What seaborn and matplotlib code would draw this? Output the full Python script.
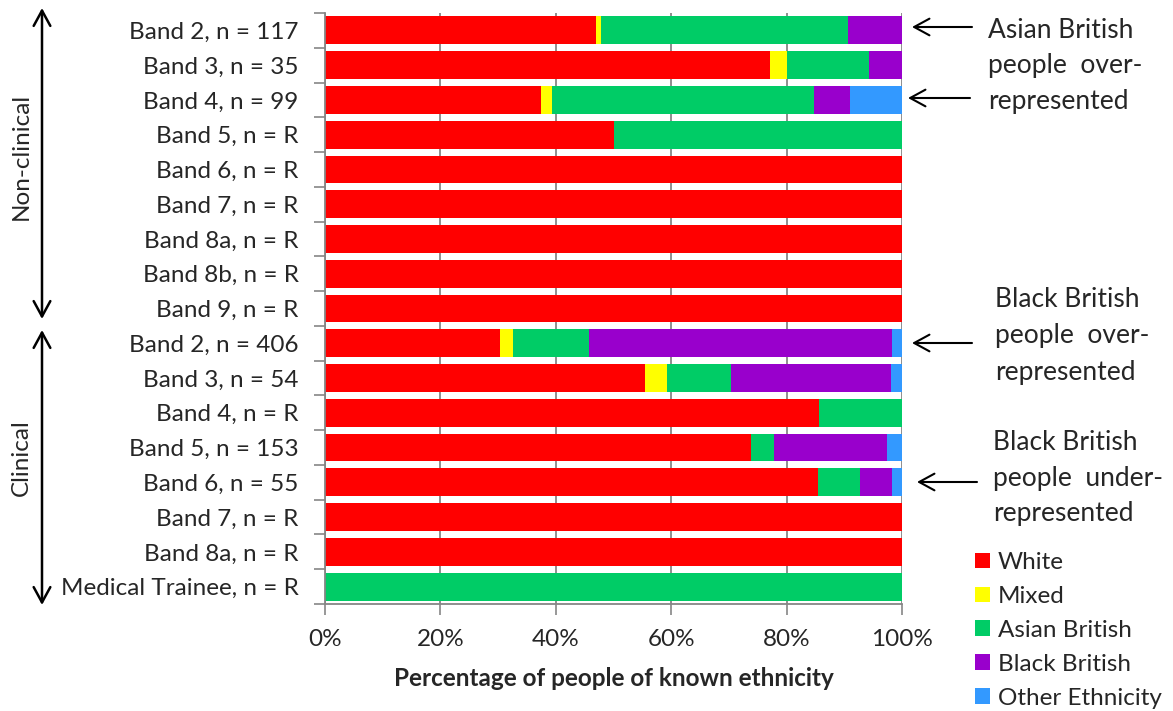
import numpy as np
import pandas as pd
import matplotlib
matplotlib.use("Agg")
import matplotlib.pyplot as plt
from matplotlib.patches import Patch, FancyArrowPatch
from matplotlib.ticker import FixedLocator, PercentFormatter
import seaborn as sns

# ---- data -------------------------------------------------------------
bands = [
    "Band 2, n = 117", "Band 3, n = 35", "Band 4, n = 99", "Band 5, n = R",
    "Band 6, n = R", "Band 7, n = R", "Band 8a, n = R", "Band 8b, n = R",
    "Band 9, n = R",
    "Band 2, n = 406", "Band 3, n = 54", "Band 4, n = R", "Band 5, n = 153",
    "Band 6, n = 55", "Band 7, n = R", "Band 8a, n = R",
    "Medical Trainee, n = R",
]
ethnicities = ["White", "Mixed", "Asian British", "Black British", "Other Ethnicity"]

white = [46.9, 77.1, 37.4, 50.0, 100, 100, 100, 100, 100,
         30.3, 55.6, 85.7, 73.9, 85.5, 100, 100, 0]
mixed = [0.9, 2.9, 2.0, 0, 0, 0, 0, 0, 0,
         2.2, 3.7, 0, 0, 0, 0, 0, 0]
asian = [42.8, 14.3, 45.5, 50.0, 0, 0, 0, 0, 0,
         13.3, 11.1, 14.3, 3.9, 7.3, 0, 0, 100]
black = [9.4, 5.7, 6.1, 0, 0, 0, 0, 0, 0,
         52.5, 27.8, 0, 19.6, 5.5, 0, 0, 0]
other = [0, 0, 9.1, 0, 0, 0, 0, 0, 0,
         1.7, 1.9, 0, 2.6, 1.8, 0, 0, 0]

palette = ["#FF0000", "#FFFF00", "#00CC66", "#9900CC", "#3399FF"]

# ---- long-form table with running totals ------------------------------
row_ids = [f"r{i:02d}" for i in range(len(bands))]
shares = np.array([white, mixed, asian, black, other], dtype=float).T
shares = shares / shares.sum(axis=1, keepdims=True) * 100.0
cum = np.cumsum(shares, axis=1)
df = pd.DataFrame({
    "row": np.repeat(row_ids, len(ethnicities)),
    "ethnicity": np.tile(ethnicities, len(bands)),
    "cum": cum.ravel(),
})

# ---- figure -----------------------------------------------------------
W, H = 1173, 711
sns.set_theme(style="white")
plt.rcParams["font.family"] = ["Lato", "DejaVu Sans"]
FS = 17.5
NOTE_FS = 19
GREY = "#868686"

fig = plt.figure(figsize=(W / 100, H / 100), dpi=100)
ax = fig.add_axes([325 / W, 1 - 604 / H, (902 - 325) / W, (604 - 13) / H])


def fx(px):
    return px / W


def fy(py):
    return 1 - py / H


# stacked bars: draw running totals from the outermost layer inwards
for eth, col in zip(ethnicities[::-1], palette[::-1]):
    sub = df[df["ethnicity"] == eth]
    sns.barplot(data=sub, x="cum", y="row", order=row_ids, orient="h",
                color=col, saturation=1, width=0.8, errorbar=None,
                linewidth=0, ax=ax, zorder=2)

ax.set_xlim(0, 100)
ax.set_ylim(len(bands) - 0.5, -0.5)
ax.set_xlabel("Percentage of people of known ethnicity", fontsize=FS,
              fontweight="bold", labelpad=12)
ax.set_ylabel("")

ax.set_xticks(np.arange(0, 101, 20))
ax.xaxis.set_major_formatter(PercentFormatter(decimals=0))
ax.set_yticks(range(len(bands)))
ax.set_yticklabels(bands)
ax.yaxis.set_minor_locator(FixedLocator(np.arange(-0.5, len(bands), 1.0)))

ax.tick_params(axis="x", which="major", direction="out", length=8,
               width=1.2, color=GREY, labelsize=FS, pad=10, bottom=True)
ax.tick_params(axis="y", which="major", length=0, labelsize=FS, pad=19,
               left=True)
ax.tick_params(axis="y", which="minor", direction="out", length=8,
               width=1.2, color=GREY, left=True)

ax.set_axisbelow(True)
ax.xaxis.grid(True, color=GREY, linewidth=1.3)
ax.yaxis.grid(False)
for side in ["top", "right"]:
    ax.spines[side].set_visible(False)
for side in ["left", "bottom"]:
    ax.spines[side].set_color(GREY)
    ax.spines[side].set_linewidth(1.3)

# legend
handles = [Patch(facecolor=c, edgecolor="none", label=e)
           for e, c in zip(ethnicities, palette)]
fig.legend(handles=handles, loc="upper left",
           bbox_to_anchor=(fx(975), fy(552)), frameon=False, fontsize=FS,
           handlelength=0.6, handleheight=0.6, handletextpad=0.35,
           labelspacing=0.53, borderaxespad=0, borderpad=0)

# group arrows on the left
arrow_kw = dict(arrowstyle="<->,head_length=0.55,head_width=0.3",
                mutation_scale=20, color="black", lw=1.8,
                shrinkA=0, shrinkB=0, transform=fig.transFigure)
fig.add_artist(FancyArrowPatch((fx(42), fy(8)), (fx(42), fy(319)),
                               **arrow_kw))
fig.add_artist(FancyArrowPatch((fx(42), fy(330)), (fx(42), fy(605)),
                               **arrow_kw))
fig.text(fx(21), fy(156), "Non-clinical", rotation=90, ha="center",
         va="center", fontsize=FS)
fig.text(fx(21), fy(458), "Clinical", rotation=90, ha="center",
         va="center", fontsize=FS)

# call-out arrows and notes on the right
callout_kw = dict(arrowstyle="->,head_length=0.55,head_width=0.3",
                  mutation_scale=20, color="black", lw=1.5,
                  shrinkA=0, shrinkB=0, transform=fig.transFigure)
for x0, x1, y in [(972, 912, 27), (970, 908, 98),
                  (972, 912, 343), (977, 917, 482)]:
    fig.add_artist(FancyArrowPatch((fx(x0), fy(y)), (fx(x1), fy(y)),
                                   **callout_kw))

notes = [
    (988, 31, 35, ["Asian British", "people  over-", "represented"]),
    (995, 300, 36, ["Black British", "people  over-", "represented"]),
    (993, 443, 35.5, ["Black British", "people  under-", "represented"]),
]
for left, top, step, lines in notes:
    for i, line in enumerate(lines):
        fig.text(fx(left), fy(top + i * step), line, ha="left",
                 va="center", fontsize=NOTE_FS)

fig.savefig("out.png", dpi=100)
